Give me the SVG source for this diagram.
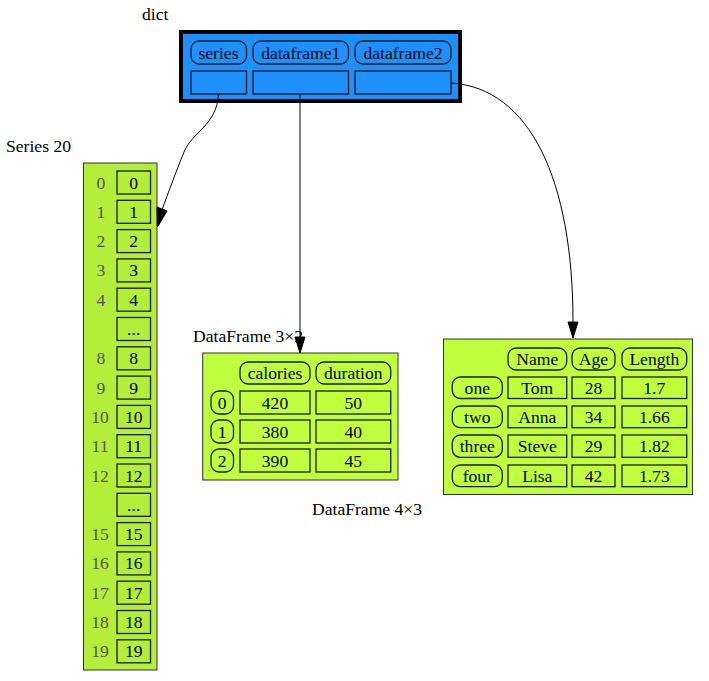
<svg xmlns="http://www.w3.org/2000/svg" width="709" height="681" viewBox="0 0 709 681" font-family="'Liberation Serif', 'DejaVu Serif', serif">
<style>
text{font-family:'Liberation Serif','DejaVu Serif',serif;font-size:17.6px;fill:#000}
.c{text-anchor:middle}
.idx{fill:#555;text-anchor:middle}
.cell{fill:none;stroke:#1a1a1a;stroke-width:1.3}
.hdr{fill:none;stroke:#1a1a1a;stroke-width:1.3}
.edge{fill:none;stroke:#000;stroke-width:1}
.ah{fill:#000;stroke:#000;stroke-width:1}
</style>
<rect width="709" height="681" fill="#fff"/>
<text x="142" y="20">dict</text>
<text x="6" y="152">Series 20</text>
<text x="193" y="342">DataFrame 3×2</text>
<text x="312" y="515">DataFrame 4×3</text>

<g id="dict">
<rect x="181" y="32" width="279" height="69" fill="#1e90ff" stroke="#000" stroke-width="4"/>
<rect class="hdr" x="191" y="41" width="55.5" height="23" rx="8"/>
<text class="c" x="218.5" y="58.5">series</text>
<rect class="hdr" x="253" y="41" width="95.5" height="23" rx="8"/>
<text class="c" x="300.7" y="58.5">dataframe1</text>
<rect class="hdr" x="355" y="41" width="96" height="23" rx="8"/>
<text class="c" x="403" y="58.5">dataframe2</text>
<rect class="cell" x="191" y="71" width="55.5" height="23"/>
<rect class="cell" x="253" y="71" width="95.5" height="23"/>
<rect class="cell" x="355" y="71" width="96" height="23"/>
</g>

<g id="series">
<rect x="83.5" y="163" width="73.5" height="507" fill="#b3ee3a" stroke="#333" stroke-width="1"/>
<g class="rows">
<rect class="cell" x="117" y="171" width="33.5" height="23"/><text class="idx" x="101" y="188.5">0</text><text class="c" x="133.7" y="188.5">0</text>
<rect class="cell" x="117" y="200.3" width="33.5" height="23"/><text class="idx" x="101" y="217.8">1</text><text class="c" x="133.7" y="217.8">1</text>
<rect class="cell" x="117" y="229.6" width="33.5" height="23"/><text class="idx" x="101" y="247.1">2</text><text class="c" x="133.7" y="247.1">2</text>
<rect class="cell" x="117" y="258.9" width="33.5" height="23"/><text class="idx" x="101" y="276.4">3</text><text class="c" x="133.7" y="276.4">3</text>
<rect class="cell" x="117" y="288.2" width="33.5" height="23"/><text class="idx" x="101" y="305.7">4</text><text class="c" x="133.7" y="305.7">4</text>
<rect class="cell" x="117" y="317.5" width="33.5" height="23"/><text class="c" x="133.7" y="335">...</text>
<rect class="cell" x="117" y="346.8" width="33.5" height="23"/><text class="idx" x="101" y="364.3">8</text><text class="c" x="133.7" y="364.3">8</text>
<rect class="cell" x="117" y="376.1" width="33.5" height="23"/><text class="idx" x="101" y="393.6">9</text><text class="c" x="133.7" y="393.6">9</text>
<rect class="cell" x="117" y="405.4" width="33.5" height="23"/><text class="idx" x="100" y="422.9">10</text><text class="c" x="133.7" y="422.9">10</text>
<rect class="cell" x="117" y="434.7" width="33.5" height="23"/><text class="idx" x="100" y="452.2">11</text><text class="c" x="133.7" y="452.2">11</text>
<rect class="cell" x="117" y="464" width="33.5" height="23"/><text class="idx" x="100" y="481.5">12</text><text class="c" x="133.7" y="481.5">12</text>
<rect class="cell" x="117" y="493.3" width="33.5" height="23"/><text class="c" x="133.7" y="510.8">...</text>
<rect class="cell" x="117" y="522.6" width="33.5" height="23"/><text class="idx" x="100" y="540.1">15</text><text class="c" x="133.7" y="540.1">15</text>
<rect class="cell" x="117" y="551.9" width="33.5" height="23"/><text class="idx" x="100" y="569.4">16</text><text class="c" x="133.7" y="569.4">16</text>
<rect class="cell" x="117" y="581.2" width="33.5" height="23"/><text class="idx" x="100" y="598.7">17</text><text class="c" x="133.7" y="598.7">17</text>
<rect class="cell" x="117" y="610.5" width="33.5" height="23"/><text class="idx" x="100" y="628">18</text><text class="c" x="133.7" y="628">18</text>
<rect class="cell" x="117" y="639.8" width="33.5" height="23"/><text class="idx" x="100" y="657.3">19</text><text class="c" x="133.7" y="657.3">19</text>
</g>
</g>

<g id="dataframe1">
<rect x="202.7" y="353" width="195.3" height="127" fill="#c0ff3e" stroke="#333" stroke-width="1"/>
<rect class="hdr" x="240" y="362" width="70" height="22" rx="8"/><text class="c" x="275" y="379">calories</text>
<rect class="hdr" x="316" y="362" width="74.7" height="22" rx="8"/><text class="c" x="353.3" y="379">duration</text>
<rect class="hdr" x="211" y="391" width="22.5" height="23" rx="8"/><text class="c" x="222.2" y="408.5">0</text>
<rect class="cell" x="240" y="391" width="70" height="23"/><text class="c" x="275" y="408.5">420</text>
<rect class="cell" x="316" y="391" width="74.7" height="23"/><text class="c" x="353.3" y="408.5">50</text>
<rect class="hdr" x="211" y="420" width="22.5" height="23" rx="8"/><text class="c" x="222.2" y="437.5">1</text>
<rect class="cell" x="240" y="420" width="70" height="23"/><text class="c" x="275" y="437.5">380</text>
<rect class="cell" x="316" y="420" width="74.7" height="23"/><text class="c" x="353.3" y="437.5">40</text>
<rect class="hdr" x="211" y="449" width="22.5" height="23" rx="8"/><text class="c" x="222.2" y="466.5">2</text>
<rect class="cell" x="240" y="449" width="70" height="23"/><text class="c" x="275" y="466.5">390</text>
<rect class="cell" x="316" y="449" width="74.7" height="23"/><text class="c" x="353.3" y="466.5">45</text>
</g>

<g id="dataframe2">
<rect x="443.5" y="339" width="249" height="155.5" fill="#c0ff3e" stroke="#333" stroke-width="1"/>
<rect class="hdr" x="508" y="348" width="58.7" height="22" rx="8"/><text class="c" x="537.3" y="365">Name</text>
<rect class="hdr" x="572" y="348" width="43" height="22" rx="8"/><text class="c" x="593.5" y="365">Age</text>
<rect class="hdr" x="622" y="348" width="64.7" height="22" rx="8"/><text class="c" x="654.3" y="365">Length</text>

<rect class="hdr" x="452.3" y="377" width="50" height="21.5" rx="8"/><text class="c" x="477.3" y="394">one</text>
<rect class="cell" x="508" y="377" width="58.7" height="21.5"/><text class="c" x="537.3" y="394">Tom</text>
<rect class="cell" x="572" y="377" width="43" height="21.5"/><text class="c" x="593.5" y="394">28</text>
<rect class="cell" x="622" y="377" width="64.7" height="21.5"/><text class="c" x="654.3" y="394">1.7</text>

<rect class="hdr" x="452.3" y="406" width="50" height="21.7" rx="8"/><text class="c" x="477.3" y="423">two</text>
<rect class="cell" x="508" y="406" width="58.7" height="21.7"/><text class="c" x="537.3" y="423">Anna</text>
<rect class="cell" x="572" y="406" width="43" height="21.7"/><text class="c" x="593.5" y="423">34</text>
<rect class="cell" x="622" y="406" width="64.7" height="21.7"/><text class="c" x="654.3" y="423">1.66</text>

<rect class="hdr" x="452.3" y="435" width="50" height="22.3" rx="8"/><text class="c" x="477.3" y="452.3">three</text>
<rect class="cell" x="508" y="435" width="58.7" height="22.3"/><text class="c" x="537.3" y="452.3">Steve</text>
<rect class="cell" x="572" y="435" width="43" height="22.3"/><text class="c" x="593.5" y="452.3">29</text>
<rect class="cell" x="622" y="435" width="64.7" height="22.3"/><text class="c" x="654.3" y="452.3">1.82</text>

<rect class="hdr" x="452.3" y="465" width="50" height="21.7" rx="8"/><text class="c" x="477.3" y="482">four</text>
<rect class="cell" x="508" y="465" width="58.7" height="21.7"/><text class="c" x="537.3" y="482">Lisa</text>
<rect class="cell" x="572" y="465" width="43" height="21.7"/><text class="c" x="593.5" y="482">42</text>
<rect class="cell" x="622" y="465" width="64.7" height="21.7"/><text class="c" x="654.3" y="482">1.73</text>
</g>

<g id="edges">
<path class="edge" d="M218.5,94 C217,125 192,132 184,152 C176,172 168,193 162,210"/>
<polygon class="ah" points="157,207 167,211 157.5,227"/>
<path class="edge" d="M300,94 V338"/>
<polygon class="ah" points="295,337 305,337 300,353"/>
<path class="edge" d="M451,83 C530,88 573,180 573,322"/>
<polygon class="ah" points="568,322 578,322 573,338"/>
</g>
</svg>
